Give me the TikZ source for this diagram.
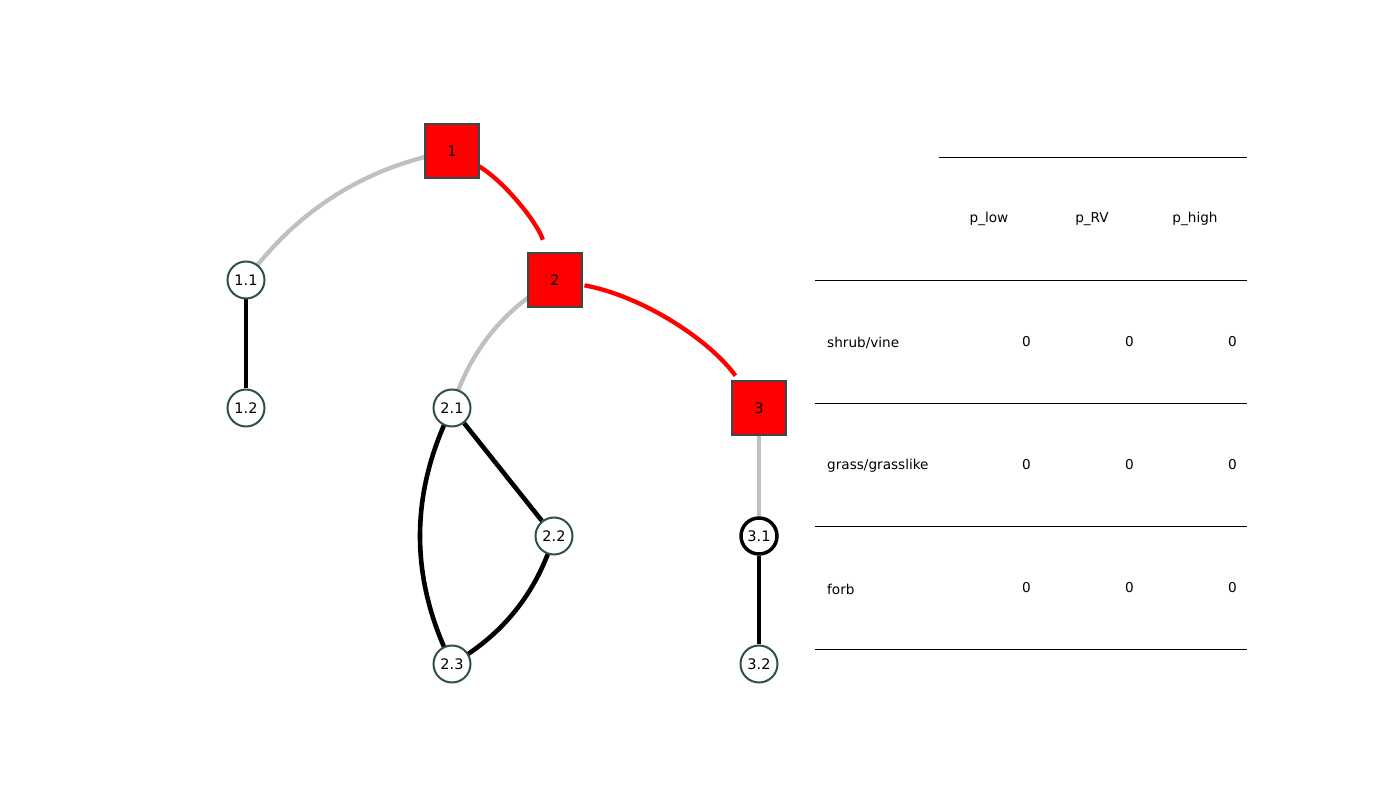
\documentclass[tikz,border=0pt]{standalone}
\usepackage{fontspec}
\setmainfont{DejaVu Sans}
\usetikzlibrary{backgrounds,calc}
\definecolor{nodeedge}{HTML}{2F4F4F}
\definecolor{treered}{HTML}{FF0000}
\definecolor{silverline}{HTML}{C0C0C0}
% quadratic arc between two node centres: style, from, to, bow factor, side (90 or -90)
\newcommand\arcedge[5]{%
  \coordinate (ctl) at ($(#2.center)!0.5!(#3.center)!#4!#5:(#3.center)$);
  \draw[#1] (#2.center) .. controls ($(#2.center)!0.6667!(ctl)$) and ($(#3.center)!0.6667!(ctl)$) .. (#3.center);}
\begin{document}
\begin{tikzpicture}[x=1pt,y=1pt,
  labelfont/.style={font=\fontsize{14.5}{16}\selectfont},
  sqnode/.style={draw=nodeedge, fill=treered, line width=2pt, minimum size=54pt, inner sep=0pt, labelfont},
  cnode/.style={circle, draw=nodeedge, fill=white, line width=2pt, minimum size=37pt, inner sep=0pt, labelfont},
  boldnode/.style={draw=black, line width=3.5pt, minimum size=36pt},
  redge/.style={draw=treered, line width=4.3pt},
  gedge/.style={draw=silverline, line width=4.3pt},
  kedge/.style={draw=black, line width=4.6pt},
  tabrule/.style={draw=black, line width=1pt},
  cell/.style={font=\fontsize{13.6}{15}\selectfont, inner sep=0pt}
]
\path[use as bounding box] (0,0) rectangle (1400,800);

% tree nodes
\node[sqnode] (n1) at (452,649) {1};
\node[sqnode] (n2) at (555,520) {2};
\node[sqnode] (n3) at (759,392) {3};
\node[cnode] (n1-1) at (246,520) {1.1};
\node[cnode] (n1-2) at (246,392) {1.2};
\node[cnode] (n2-1) at (452,392) {2.1};
\node[cnode] (n2-2) at (554,264) {2.2};
\node[cnode] (n2-3) at (452,136) {2.3};
\node[cnode,boldnode] (n3-1) at (759,264) {3.1};
\node[cnode] (n3-2) at (759,136) {3.2};

% connectors behind the nodes
\begin{scope}[on background layer]
  \arcedge{gedge}{n1}{n1-1}{0.4}{-90}
  \arcedge{redge, shorten <=30pt, shorten >=42pt}{n1}{n2}{0.4}{90}
  \arcedge{gedge}{n2}{n2-1}{0.4}{-90}
  \arcedge{redge, shorten <=30pt, shorten >=40pt}{n2}{n3}{0.4}{90}
  \draw[gedge] (n3) -- (n3-1);
  \draw[kedge] (n1-1) -- (n1-2);
  \draw[kedge] (n2-1) -- (n2-2);
  \arcedge{kedge}{n2-2}{n2-3}{0.4}{90}
  \arcedge{kedge}{n2-1}{n2-3}{0.5}{-90}
  \draw[kedge] (n3-1) -- (n3-2);
\end{scope}

% table rules
\draw[tabrule] (939,642) -- (1247,642);
\draw[tabrule] (815,519) -- (1247,519);
\draw[tabrule] (815,396) -- (1247,396);
\draw[tabrule] (815,273) -- (1247,273);
\draw[tabrule] (815,150) -- (1247,150);

% table header
\node[cell] (hlow) at (989,581) {p\_low};
\node[cell] (hrv) at (1092,581) {p\_RV};
\node[cell] (hhigh) at (1195,581) {p\_high};

% table rows
\node[cell, anchor=west] (r1) at (827,457) {shrub/vine};
\node[cell, anchor=east] (r1a) at (1031,458) {0};
\node[cell, anchor=east] (r1b) at (1134,458) {0};
\node[cell, anchor=east] (r1c) at (1237,458) {0};

\node[cell, anchor=west] (r2) at (827,334) {grass/grasslike};
\node[cell, anchor=east] (r2a) at (1031,335) {0};
\node[cell, anchor=east] (r2b) at (1134,335) {0};
\node[cell, anchor=east] (r2c) at (1237,335) {0};

\node[cell, anchor=west] (r3) at (827,211) {forb};
\node[cell, anchor=east] (r3a) at (1031,212) {0};
\node[cell, anchor=east] (r3b) at (1134,212) {0};
\node[cell, anchor=east] (r3c) at (1237,212) {0};
\end{tikzpicture}
\end{document}
